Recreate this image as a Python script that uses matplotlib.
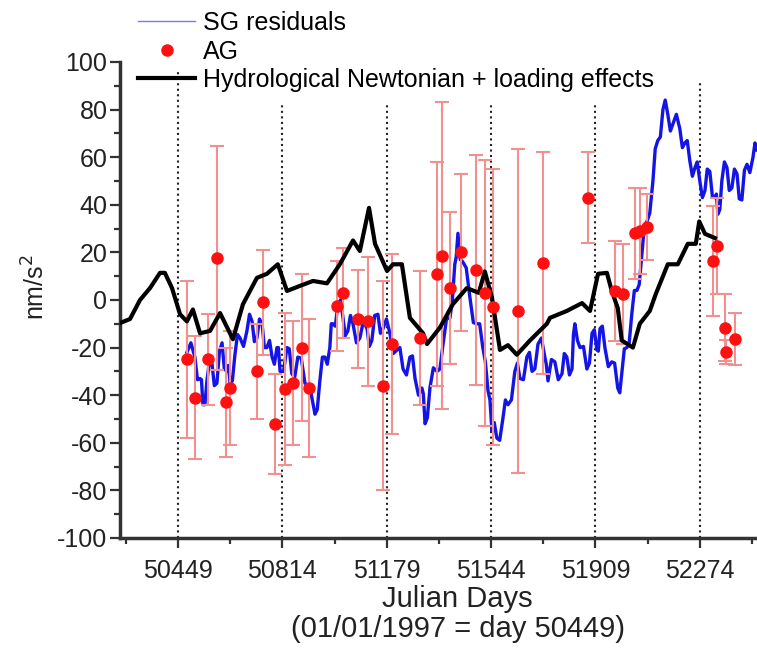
import matplotlib.pyplot as plt
from matplotlib.ticker import FixedLocator

plt.rcParams['font.family'] = ['Liberation Sans', 'DejaVu Sans']
plt.rcParams['axes.unicode_minus'] = False

# SG residuals
sg_days = [50480, 50494, 50508, 50517, 50526, 50531, 50536, 50543, 50550, 50559,
           50568, 50576, 50585, 50594, 50603, 50611, 50620, 50625, 50631, 50639,
           50648, 50657, 50666, 50678, 50690, 50699, 50708, 50716, 50725, 50734,
           50743, 50751, 50760, 50769, 50778, 50786, 50795, 50800, 50806, 50818,
           50830, 50838, 50847, 50857, 50868, 50880, 50893, 50910, 50928, 50936,
           50945, 50954, 50963, 50971, 50980, 50985, 50991, 50999, 51008, 51017,
           51026, 51034, 51043, 51052, 51061, 51073, 51085, 51097, 51110, 51118,
           51127, 51137, 51148, 51157, 51166, 51178, 51190, 51202, 51215, 51225,
           51236, 51248, 51260, 51269, 51278, 51290, 51302, 51307, 51313, 51321,
           51330, 51342, 51355, 51365, 51376, 51388, 51400, 51408, 51417, 51422,
           51428, 51436, 51445, 51457, 51470, 51482, 51494, 51504, 51515, 51524,
           51533, 51540, 51547, 51555, 51564, 51574, 51585, 51594, 51603, 51615,
           51627, 51636, 51645, 51657, 51669, 51678, 51687, 51697, 51708, 51720,
           51732, 51737, 51743, 51755, 51767, 51779, 51792, 51800, 51809, 51818,
           51827, 51832, 51837, 51846, 51855, 51867, 51879, 51888, 51897, 51905,
           51914, 51919, 51925, 51933, 51942, 51954, 51966, 51976, 51987, 51994,
           52001, 52010, 52019, 52027, 52036, 52045, 52054, 52062, 52071, 52080,
           52089, 52099, 52110, 52118, 52127, 52136, 52145, 52153, 52162, 52171,
           52180, 52192, 52204, 52213, 52222, 52230, 52239, 52248, 52257, 52265,
           52274, 52283, 52292, 52300, 52309, 52318, 52327, 52332, 52337, 52344,
           52351, 52360, 52369, 52377, 52386, 52395, 52404, 52412, 52421, 52430,
           52439, 52449, 52460, 52467, 52474]
sg_vals = [-22, -18, -24, -33.5, -33, -33.5, -44, -44, -34, -25.5,
           -27, -36, -35, -21.5, -18, -29, -30, -27.5, -35, -34,
           -23, -14.5, -16, -19.5, -13, -6, -9, -17.5, -16, -8,
           -10, -20, -20, -17, -24, -27, -20, -20, -30, -30,
           -20, -20.5, -31, -32.5, -24, -24.5, -35, -36.5, -48, -46,
           -34, -24, -24, -27, -20, -10, -10, -11, -2, 0,
           -7.5, -15, -13, -6.5, -10, -18, -16, -9, -12, -19.5,
           -17, -6.5, -6, -14, -12, -8, -14, -22.5, -21, -20,
           -29, -31.5, -24, -23.5, -33, -40, -37, -39.5, -52, -49.5,
           -37, -28.5, -30, -29, -18.5, -8, -7.5, -1, 15, 18,
           28, 17, 16, 13.5, 1, -9.5, -10, -10, -20, -26,
           -38, -42, -55, -51.5, -58, -59, -50, -42, -44, -42,
           -30, -26.5, -33, -33.5, -24, -22, -30, -29, -18.5, -16,
           -24, -27, -34, -25, -26, -33.5, -31, -22.5, -24, -31.5,
           -29, -14.5, -10, -17, -20, -19.5, -29, -26.5, -14, -12.5,
           -21, -21.5, -12, -11, -20, -28, -26, -26.5, -37, -39,
           -31, -20.5, -20, -18, -6, 4, 4, 6.5, 19, 31,
           33, 36.5, 50, 63.5, 67, 68.5, 80, 84, 78, 71,
           74, 78, 72, 64, 66, 67, 58.5, 52, 55.6, 58,
           50, 43, 46, 55, 54, 43.5, 43, 44.5, 36, 38,
           50, 58, 55.6, 46, 47, 55, 53, 42.5, 42, 54.5,
           57, 53.5, 60, 66, 63]

# hydrological Newtonian + loading effects
hyd_days = [50246, 50281, 50316, 50351, 50386, 50403, 50428, 50456, 50480, 50501,
            50526, 50561, 50596, 50641, 50676, 50725, 50760, 50798, 50830, 50875,
            50921, 50970, 51015, 51061, 51085, 51117, 51138, 51180, 51201, 51232,
            51260, 51306, 51320, 51365, 51410, 51459, 51501, 51522, 51547, 51575,
            51603, 51634, 51680, 51739, 51750, 51809, 51862, 51890, 51918, 51949,
            51966, 51987, 52001, 52040, 52064, 52099, 52120, 52162, 52197, 52232,
            52260, 52272, 52292, 52327]
hyd_vals = [-9.7, -8, 0, 5, 11.4, 11.4, 5, -6, -9, -4,
            -14, -13, -5.5, -16.5, -1.8, 9.3, 11, 15, 3.8, 5.9,
            8, 7, 15, 25, 20.6, 38.7, 23.6, 12.2, 15, 15,
            -7.5, -14, -18.5, -11.6, -1.8, 5, 3, 12, 1, -21,
            -19, -23, -17, -10, -7.5, -4.6, -1.3, -4.6, 11, 11.4,
            3.8, -3.4, -17, -20, -10, -4.6, 2.5, 15, 15, 23.6,
            23.6, 33, 27.8, 26]

# absolute gravity measurements and their error bars
ag_days = [50480, 50508, 50554, 50585, 50617, 50631, 50725, 50746, 50788, 50823,
           50851, 50882, 50907, 51005, 51026, 51078, 51113, 51166, 51197, 51295,
           51355, 51372, 51400, 51438, 51491, 51522, 51550, 51638, 51725, 51883,
           51977, 52005, 52047, 52064, 52089, 52320, 52334, 52362, 52364, 52397]
ag_vals = [-25, -41, -25, 17.7, -43, -37, -30, -1, -52, -37.5,
           -35, -20, -37, -2.5, 3, -8, -9, -36, -18.5, -16,
           11, 18.5, 5, 20, 12.6, 3, -3, -4.6, 15.6, 43,
           3.8, 2.5, 28, 29, 30.7, 16.4, 22.7, -11.6, -22, -16.5]
ag_err = [33, 26, 19, 47, 23, 24, 20, 22, 21, 32,
          26, 31, 29, 19, 19, 20.5, 27, 44, 38, 28,
          47, 64.5, 32, 33, 48.5, 56, 58, 68, 46.5, 19,
          21, 21, 19, 18, 14, 23, 20, 14, 5, 11]

year_ticks = [50449, 50814, 51179, 51544, 51909, 52274]
half_year_ticks = [50266.5, 50631.5, 50996.5, 51361.5, 51726.5, 52091.5, 52456.5]
line_tops = [96, 82, 82, 82, 82, 92]

fig = plt.figure(figsize=(7.57, 6.51), dpi=100)
ax = fig.add_axes([0.1585, 0.1736, 0.8415, 0.7312])

ax.vlines(year_ticks, -100, line_tops, colors='#222222', linestyles=':', linewidth=1.5, zorder=1)

sg_line, = ax.plot(sg_days, sg_vals, color='#1414e6', linewidth=2.4, zorder=2, label='SG residuals')
ax.errorbar(ag_days, ag_vals, yerr=ag_err, fmt='none', ecolor='#f29090', elinewidth=1.5,
            capsize=5, capthick=1.5, zorder=3)
hyd_line, = ax.plot(hyd_days, hyd_vals, color='black', linewidth=3, zorder=4,
                    label='Hydrological Newtonian + loading effects')
ag_pts, = ax.plot(ag_days, ag_vals, 'o', color='#ff1010', markersize=8, zorder=5, label='AG')

ax.set_xlim(50246, 52474)
ax.set_ylim(-100, 100)

ax.xaxis.set_major_locator(FixedLocator(year_ticks))
ax.xaxis.set_minor_locator(FixedLocator(half_year_ticks))
ax.yaxis.set_major_locator(FixedLocator(range(-100, 101, 20)))
ax.yaxis.set_minor_locator(FixedLocator(range(-90, 100, 20)))

for s in ['top', 'right']:
    ax.spines[s].set_visible(False)
for s in ['left', 'bottom']:
    ax.spines[s].set_linewidth(2.5)
    ax.spines[s].set_color('#333333')

ax.tick_params(which='major', length=7, width=1.6, color='#333333', labelsize=18,
               labelcolor='#222222')
ax.tick_params(which='minor', length=4, width=1.6, color='#333333')
ax.tick_params(axis='y', pad=2)
ax.tick_params(axis='x', pad=8)

ax.set_xlabel('Julian Days\n(01/01/1997 = day 50449)', fontsize=21, color='#222222',
              linespacing=1.1)
ax.xaxis.set_label_coords(0.53, -0.098)
ax.set_ylabel('nm/s$^2$', fontsize=18, color='#222222')
ax.yaxis.set_label_coords(-0.11, 0.527)

fig.legend(handles=[sg_line, ag_pts, hyd_line], loc='upper left',
           bbox_to_anchor=(0.182, 0.983), frameon=False, fontsize=18,
           handlelength=2.3, handletextpad=0.3, labelspacing=0.18,
           borderpad=0, borderaxespad=0)
leg = fig.legends[0]
leg.legend_handles[0].set_linewidth(1)
leg.legend_handles[0].set_color('#7777ff')

fig.savefig('out.png', dpi=100)
